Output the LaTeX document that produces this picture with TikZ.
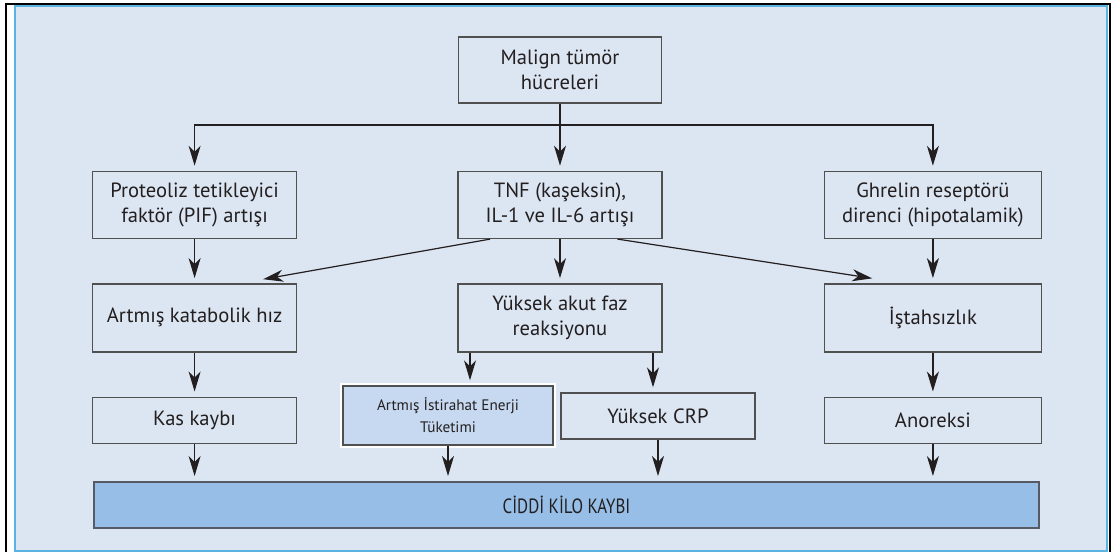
\documentclass[tikz,border=0pt]{standalone}
\usepackage{fontspec}
\setmainfont{PT Sans}
\newfontfamily\narrowfont[FakeStretch=0.82]{PT Sans}
\usepackage{tikz}
\usetikzlibrary{positioning,arrows.meta,calc}
\definecolor{panelfill}{RGB}{220,230,242}
\definecolor{panelline}{RGB}{90,180,225}
\definecolor{boxline}{RGB}{80,80,80}
\definecolor{barline}{RGB}{85,90,100}
\definecolor{istfill}{RGB}{198,217,240}
\definecolor{barfill}{RGB}{150,190,230}
\definecolor{inkcol}{RGB}{35,31,32}

\begin{document}
\begin{tikzpicture}[
  x=0.5pt, y=-0.5pt,
  node distance=22pt and 80pt,
  font=\fontsize{10.3}{12.3}\selectfont,
  box/.style={draw=boxline, line width=0.7pt, minimum width=102pt, minimum height=34pt, align=center, text=inkcol, inner sep=2pt},
  arr/.style={-{Stealth[length=10pt,width=6pt,inset=3pt]}, draw=inkcol, line width=0.6pt, shorten >=2.5pt}
]
\useasboundingbox[fill=white] (0,0) rectangle (1115,552);
\draw[line width=1pt] (6,552) -- (6,3.5) -- (1109.5,3.5) -- (1109.5,552);
\draw[panelline, fill=panelfill, line width=1pt] (15,6) rectangle (1107,550.5);

\node[box, minimum width=101.5pt, minimum height=33pt] (malign) at (560,70) {Malign tümör\\hücreleri};
\node[box, minimum height=33.5pt, below=33.5pt of malign] (tnf) {TNF (kaşeksin),\\IL-1 ve IL-6 artışı};
\node[box, minimum height=33.5pt, left=of tnf] (pif) {Proteoliz tetikleyici\\faktör (PIF) artışı};
\node[box, minimum height=33.5pt, minimum width=108.5pt, right=80.5pt of tnf] (ghrelin) {Ghrelin reseptörü\\direnci (hipotalamik)};
\node[box, below=of tnf] (akut) {Yüksek akut faz\\reaksiyonu};
\node[box, below=of pif] (katab) {Artmış katabolik hız};
\node[box, minimum width=108.5pt, below=of ghrelin] (istah) {İştahsızlık};
\node[box, minimum height=23pt, below=of katab] (kas) {Kas kaybı};
\node[box, minimum height=23pt, minimum width=108.5pt, below=of istah] (anor) {Anoreksi};
\node[box, minimum width=105pt, minimum height=29.5pt, fill=istfill, preaction={draw=white, line width=3pt}, font=\fontsize{7.6}{11}\selectfont] (ist) at (448,415.5) {Artmış İstirahat Enerji\\Tüketimi};
\node[box, minimum width=97pt, minimum height=23pt] (crp) at (658,416) {Yüksek CRP};
\node[box, minimum width=472.5pt, minimum height=23pt, fill=barfill, draw=barline, line width=1pt] (kilo) at (566.5,505) {\narrowfont CİDDİ KİLO KAYBI};

\coordinate (split) at (560,125);
\draw[arr] (malign) -- (tnf);
\draw[arr] (split) -| (pif);
\draw[arr] (split) -| (ghrelin);

\draw[arr] (tnf) -- (akut);
\draw[arr] (pif) -- (katab);
\draw[arr] (ghrelin) -- (istah);
\draw[arr] ($(tnf.south west)!0.16!(tnf.south east)$) -- ([xshift=-19.5pt,yshift=1.5pt]katab.north east);
\draw[arr] ($(tnf.south west)!0.78!(tnf.south east)$) -- ([xshift=26.75pt,yshift=2pt]istah.north west);

\draw[arr] (katab) -- (kas);
\draw[arr] (istah) -- (anor);
\draw[arr] ([xshift=-45pt]akut.south) -- ([xshift=-45pt]akut.south |- ist.north);
\draw[arr] ([xshift=-2.5pt]akut.south -| crp.north) -- ([xshift=-2.5pt]crp.north);

\draw[arr] (kas) -- (kas |- kilo.north);
\draw[arr] (ist) -- (ist |- kilo.north);
\draw[arr] (crp) -- (crp |- kilo.north);
\draw[arr] (anor) -- (anor |- kilo.north);
\end{tikzpicture}
\end{document}
